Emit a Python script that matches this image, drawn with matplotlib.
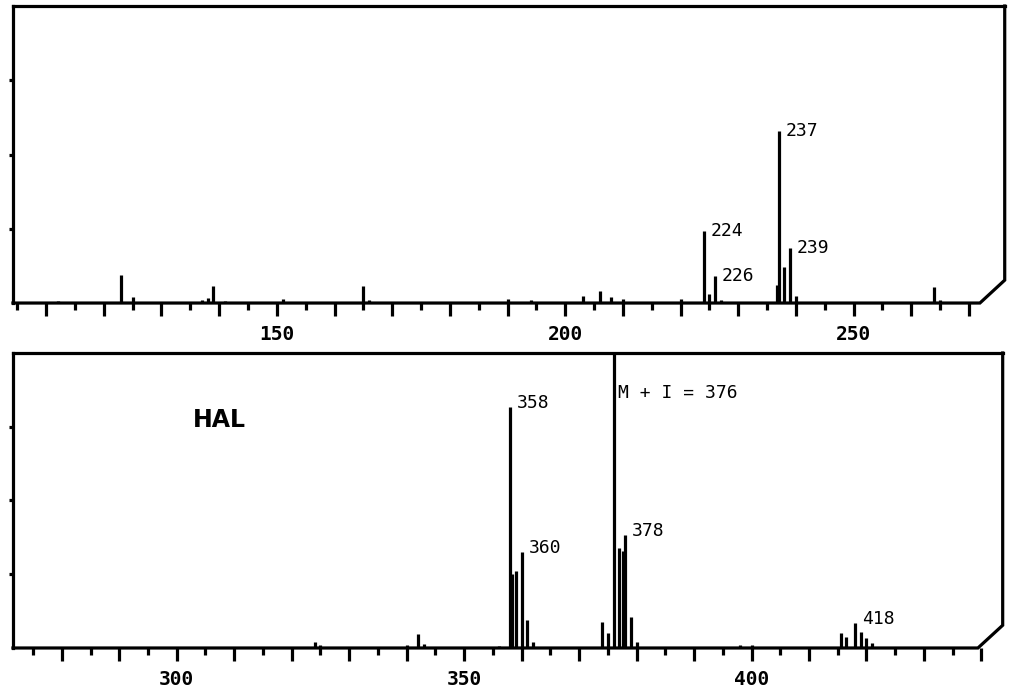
import matplotlib.pyplot as plt
from matplotlib.ticker import FixedLocator, FuncFormatter

# upper scan (m/z 105-270), intensity in % of full scale
top_mz = [112, 123, 125, 137, 138, 139, 141, 151, 165, 166, 190, 194,
          203, 206, 208, 210, 220, 224, 225, 226, 227, 236.7, 237, 238,
          239, 240, 264, 265]
top_int = [0.8, 9.4, 2.0, 1.0, 1.7, 5.7, 0.8, 1.3, 5.7, 1.0, 1.5, 1.0,
           2.3, 4.0, 2.0, 1.3, 1.3, 24.2, 3.0, 9.0, 1.0, 6.0, 58.0, 12.0,
           18.5, 2.5, 5.4, 1.0]
top_label_mz = [224, 226, 237, 239]
top_ticks = list(range(105, 271, 5))

# lower scan (m/z 275-440)
bot_mz = [324, 325, 340, 342, 343, 356, 358, 358.4, 359, 360, 361, 362,
          374, 375, 376, 377, 377.6, 378, 379, 380, 398, 400,
          415.6, 416.5, 418, 419, 420, 421]
bot_int = [2.0, 1.0, 1.0, 4.7, 1.5, 0.8, 81.7, 25.0, 26.0, 32.5, 9.5, 2.0,
           8.8, 5.0, 100.0, 34.0, 33.0, 38.3, 10.5, 2.0, 1.0, 1.0,
           5.0, 3.7, 8.5, 5.4, 3.4, 1.7]
bot_label_mz = [358, 360, 378, 418]
bot_ticks = list(range(275, 441, 5))

MONO = "DejaVu Sans Mono"
LW = 2.3


def draw_panel(ax, mz, inten, label_mz, ticks, xlim, offset):
    ax.vlines(mz, 0, inten, color="black", lw=LW, capstyle="butt")
    ax.set_xlim(*xlim)
    ax.set_ylim(0, 100)

    # frame: left + top spines, baseline with a cut-off corner on the right
    for side in ["right", "bottom"]:
        ax.spines[side].set_visible(False)
    for side in ["left", "top"]:
        ax.spines[side].set_linewidth(LW)
    ax.plot([0, 0.975, 1, 1], [0, 0, 0.077, 1], transform=ax.transAxes,
            color="black", lw=LW, clip_on=False, solid_joinstyle="miter")

    # long ticks every 10, short ones in between, numbers every 50
    ax.xaxis.set_major_locator(FixedLocator([t for t in ticks if t % 10 == 0]))
    ax.xaxis.set_minor_locator(FixedLocator([t for t in ticks if t % 10 != 0]))
    ax.xaxis.set_major_formatter(FuncFormatter(
        lambda v, p: f"{int(round(v))}" if round(v) % 50 == 0 else ""))
    ax.tick_params(axis="x", which="major", direction="out", length=9,
                   width=LW, pad=7, labelsize=14)
    ax.tick_params(axis="x", which="minor", direction="out", length=5,
                   width=LW)
    for lab in ax.get_xticklabels():
        lab.set_fontfamily(MONO)
        lab.set_fontweight("bold")

    ax.set_yticks([25, 50, 75])
    ax.tick_params(axis="y", direction="out", length=3, width=LW,
                   labelleft=False)
    ax.tick_params(top=False, right=False)

    for m in label_mz:
        h = inten[mz.index(m)]
        ax.annotate(str(m), (m, h), xytext=offset, textcoords="offset points",
                    ha="left", va="center", fontfamily=MONO, fontsize=13)


fig = plt.figure(figsize=(10.12, 6.92), dpi=100)
ax1 = fig.add_axes([0.0128, 0.5621, 0.980, 0.4292])
ax2 = fig.add_axes([0.0128, 0.0636, 0.978, 0.4263])

draw_panel(ax1, top_mz, top_int, top_label_mz, top_ticks, (104.25, 276.2), (5, 0))
draw_panel(ax2, bot_mz, bot_int, bot_label_mz, bot_ticks, (271.5, 443.7), (5, 3))

ax2.annotate("M + I = 376", (376, 86.4), xytext=(3, 0),
             textcoords="offset points", ha="left", va="center",
             fontfamily=MONO, fontsize=13)
ax2.text(302.8, 77.3, "HAL", ha="left", va="center", fontsize=17,
         fontweight="bold", fontfamily="DejaVu Sans")

fig.savefig("out.png", dpi=100, facecolor="white")
